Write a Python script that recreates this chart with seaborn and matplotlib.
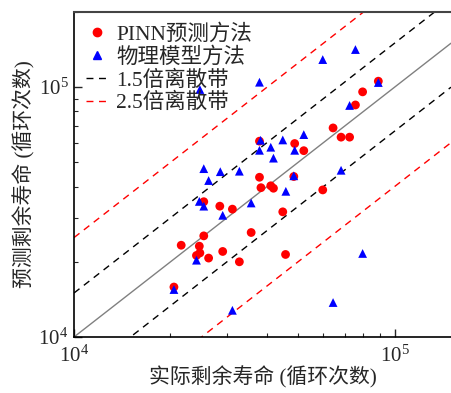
import numpy as np
import pandas as pd
import seaborn as sns
import matplotlib
matplotlib.use("Agg")
import matplotlib.pyplot as plt
from matplotlib.lines import Line2D

# PINN predictions (actual, predicted)
pinn_actual = [8.90e4, 7.95e4, 7.55e4, 6.43e4, 6.81e4, 7.24e4, 3.79e4, 4.88e4, 5.21e4, 3.79e4,
               4.85e4, 3.83e4, 4.11e4, 4.19e4, 5.97e4, 2.54e4, 2.85e4, 3.12e4, 4.48e4, 3.57e4,
               2.16e4, 2.54e4, 2.46e4, 2.41e4, 2.47e4, 2.63e4, 2.91e4, 3.28e4, 4.57e4, 2.05e4]
pinn_pred = [1.057e5, 9.58e4, 8.49e4, 6.87e4, 6.31e4, 6.31e4, 6.08e4, 5.95e4, 5.57e4, 4.36e4,
             4.39e4, 3.96e4, 4.03e4, 3.94e4, 3.88e4, 3.48e4, 3.34e4, 3.25e4, 3.17e4, 2.62e4,
             2.33e4, 2.54e4, 2.31e4, 2.12e4, 2.17e4, 2.07e4, 2.20e4, 2.00e4, 2.14e4, 1.585e4]

# physics model predictions (actual, predicted)
phys_actual = [8.90e4, 7.55e4, 5.97e4, 3.79e4, 2.47e4, 7.24e4, 5.21e4, 4.48e4, 3.82e4, 4.11e4,
               3.79e4, 4.88e4, 4.19e4, 2.54e4, 2.86e4, 3.28e4, 2.63e4, 4.85e4, 6.81e4, 4.58e4,
               2.46e4, 2.54e4, 3.57e4, 2.91e4, 2.41e4, 2.05e4, 3.12e4, 6.43e4, 7.95e4]
phys_pred = [1.044e5, 1.415e5, 1.29e5, 1.047e5, 9.79e4, 8.45e4, 6.46e4, 6.15e4, 6.13e4, 5.75e4,
             5.59e4, 5.59e4, 5.20e4, 4.72e4, 4.59e4, 4.61e4, 4.23e4, 4.42e4, 4.65e4, 3.83e4,
             3.49e4, 3.34e4, 3.44e4, 3.07e4, 2.03e4, 1.549e4, 1.279e4, 1.374e4, 2.16e4]

band_factors = [1.5, 2.5]
band_colors = ["black", "red"]
labels = ["PINN预测方法", "物理模型方法", "1.5倍离散带", "2.5倍离散带"]

xlim = (1e4, 1.5e5)
ylim = (1e4, 2e5)

sns.set_style("ticks")
plt.rcParams["font.family"] = ["Liberation Serif", "Noto Sans CJK SC"]
plt.rcParams["mathtext.fontset"] = "custom"
plt.rcParams["mathtext.rm"] = "Liberation Serif"
plt.rcParams["mathtext.it"] = "Liberation Serif:italic"

fig = plt.figure(figsize=(4.51, 3.93), dpi=100)
ax = fig.add_axes([74 / 451, 56 / 393, 1 - 74 / 451, 325 / 393])
ax.set_xscale("log")
ax.set_yscale("log")

xx = np.array(xlim)
ax.plot(xx, xx, color="#808080", lw=1.0, zorder=1)
for f, c in zip(band_factors, band_colors):
    ax.plot(xx, xx * f, color=c, lw=1.0, ls=(0, (5, 4)), zorder=1)
    ax.plot(xx, xx / f, color=c, lw=1.0, ls=(0, (5, 4)), zorder=1)

df_pinn = pd.DataFrame({"actual": pinn_actual, "pred": pinn_pred})
df_phys = pd.DataFrame({"actual": phys_actual, "pred": phys_pred})
sns.scatterplot(data=df_pinn, x="actual", y="pred", ax=ax, color="#ff0000",
                marker="o", s=40, edgecolor="none", zorder=3)
sns.scatterplot(data=df_phys, x="actual", y="pred", ax=ax, color="#0000ff",
                marker="^", s=40, edgecolor="none", zorder=4)

ax.set_xlim(xlim)
ax.set_ylim(ylim)
ax.set_xlabel("实际剩余寿命 (循环次数)", fontsize=15, labelpad=0)
ax.set_ylabel("预测剩余寿命 (循环次数)", fontsize=15, labelpad=2)

ax.tick_params(which="both", direction="in", top=False, right=False, labelsize=15)
ax.tick_params(which="major", length=6, width=1)
ax.tick_params(which="minor", length=3, width=0.8)
ax.tick_params(axis="x", pad=6)
ax.tick_params(axis="y", pad=4)
for s in ["left", "bottom"]:
    ax.spines[s].set_color("black")
    ax.spines[s].set_linewidth(1.2)
ax.spines["top"].set_color("#444444")
ax.spines["top"].set_linewidth(1.5)
ax.spines["right"].set_visible(False)

handles = [
    Line2D([], [], ls="none", marker="o", color="#ff0000", markersize=6),
    Line2D([], [], ls="none", marker="^", color="#0000ff", markersize=6),
    Line2D([], [], color="black", lw=1.0, ls=(0, (5, 4))),
    Line2D([], [], color="red", lw=1.0, ls=(0, (5, 4))),
]
ax.legend(handles, labels, loc="upper left", frameon=False, fontsize=15.5,
          handlelength=1.0, handletextpad=0.4, labelspacing=0.12,
          borderaxespad=0.35, borderpad=0.2)

fig.savefig("out.png", dpi=100)
